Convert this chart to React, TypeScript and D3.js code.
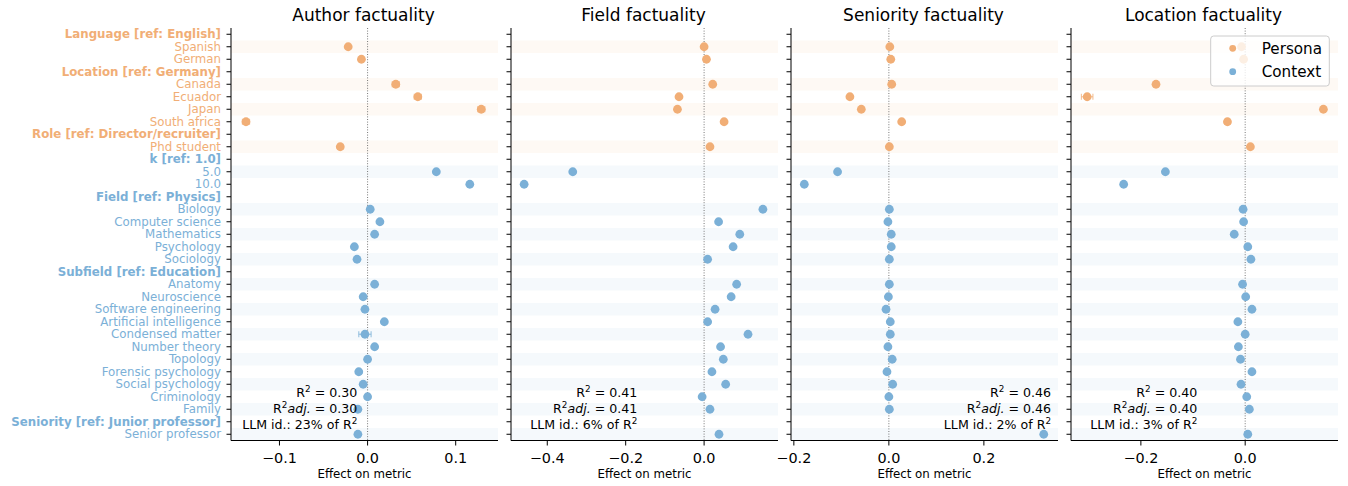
import React from "react";
import * as d3 from "d3";

const labels: string[] = [
  "Language [ref: English]", "Spanish", "German",
  "Location [ref: Germany]", "Canada", "Ecuador", "Japan", "South africa",
  "Role [ref: Director/recruiter]", "Phd student",
  "k [ref: 1.0]", "5.0", "10.0",
  "Field [ref: Physics]", "Biology", "Computer science", "Mathematics", "Psychology", "Sociology",
  "Subfield [ref: Education]", "Anatomy", "Neuroscience", "Software engineering", "Artificial intelligence",
  "Condensed matter", "Number theory", "Topology", "Forensic psychology", "Social psychology", "Criminology", "Family",
  "Seniority [ref: Junior professor]", "Senior professor",
];
const headerRows: number[] = [0, 3, 8, 10, 13, 19, 31];
const personaRowCount = 10; // rows 0..9 are persona, rest context

const authorValues = [null, -0.022, -0.007, null, 0.032, 0.057, 0.129, -0.138, null, -0.031, null, 0.078, 0.116, null, 0.003, 0.014, 0.008, -0.015, -0.012, null, 0.008, -0.005, -0.003, 0.019, -0.003, 0.008, 0.0, -0.010, -0.005, 0.0, -0.011, null, -0.011];
const authorErrors = [0, 0.002, 0.002, 0, 0.004, 0.004, 0.004, 0.004, 0, 0.003, 0, 0.002, 0.002, 0, 0.002, 0.002, 0.002, 0.002, 0.002, 0, 0.002, 0.002, 0.002, 0.002, 0.007, 0.002, 0.002, 0.002, 0.002, 0.002, 0.002, 0, 0.002];

const fieldValues = [null, 0.0, 0.006, null, 0.022, -0.064, -0.068, 0.051, null, 0.015, null, -0.335, -0.459, null, 0.150, 0.037, 0.091, 0.074, 0.009, null, 0.083, 0.069, 0.028, 0.009, 0.112, 0.042, 0.049, 0.020, 0.055, -0.005, 0.015, null, 0.038];
const fieldErrors = [0, 0.003, 0.003, 0, 0.003, 0.003, 0.003, 0.003, 0, 0.003, 0, 0.003, 0.003, 0, 0.003, 0.003, 0.003, 0.003, 0.003, 0, 0.003, 0.003, 0.003, 0.003, 0.004, 0.003, 0.003, 0.003, 0.003, 0.003, 0.003, 0, 0.003];

const seniorityValues = [null, 0.002, 0.004, null, 0.006, -0.082, -0.058, 0.027, null, 0.001, null, -0.108, -0.178, null, 0.001, -0.002, 0.005, 0.005, 0.001, null, 0.001, -0.001, -0.006, 0.003, 0.003, -0.002, 0.007, -0.004, 0.008, 0.0, 0.001, null, 0.326];
const seniorityErrors = [0, 0.003, 0.003, 0, 0.003, 0.003, 0.003, 0.003, 0, 0.003, 0, 0.003, 0.003, 0, 0.003, 0.003, 0.003, 0.003, 0.003, 0, 0.003, 0.003, 0.003, 0.003, 0.003, 0.003, 0.003, 0.003, 0.003, 0.003, 0.003, 0, 0.003];

const locationValues = [null, -0.007, -0.003, null, -0.171, -0.303, 0.150, -0.034, null, 0.010, null, -0.153, -0.233, null, -0.004, -0.003, -0.021, 0.005, 0.011, null, -0.005, 0.001, 0.013, -0.014, 0.0, -0.013, -0.009, 0.013, -0.008, 0.003, 0.008, null, 0.005];
const locationErrors = [0, 0.003, 0.003, 0, 0.005, 0.011, 0.004, 0.005, 0, 0.003, 0, 0.003, 0.003, 0, 0.003, 0.003, 0.003, 0.003, 0.003, 0, 0.003, 0.003, 0.003, 0.003, 0.003, 0.003, 0.003, 0.003, 0.003, 0.003, 0.003, 0, 0.003];

const panelTitles = ["Author factuality", "Field factuality", "Seniority factuality", "Location factuality"];
const panelDomains: [number, number][] = [[-0.155, 0.148], [-0.4925, 0.1885], [-0.206, 0.356], [-0.334, 0.178]];
const panelTicks: number[][] = [[-0.1, 0.0, 0.1], [-0.4, -0.2, 0.0], [-0.2, 0.0, 0.2], [-0.2, 0.0]];
const r2Values = ["0.30", "0.41", "0.46", "0.40"];
const r2AdjValues = ["0.30", "0.41", "0.46", "0.40"];
const llmShares = ["23%", "6%", "2%", "3%"];
const legendLabels = ["Persona", "Context"];

const ORANGE = "#F1AE76";
const BLUE = "#7BB0D7";
const FONT = "'DejaVu Sans', sans-serif";

export default function App() {
  const W = 1348, H = 486;
  const panelLeft0 = 231, panelStep = 280, panelW = 267;
  const top = 28, bottom = 440.5;
  const y = d3.scaleLinear().domain([-0.5, labels.length - 0.5]).range([top, bottom]);
  const rowH = y(1) - y(0);
  const fmt = d3.format(".1f");
  const values = [authorValues, fieldValues, seniorityValues, locationValues];
  const errors = [authorErrors, fieldErrors, seniorityErrors, locationErrors];
  const annoX = [126.3, 126.3, 260, 126.3];

  // banding: first item in each group banded, then alternate
  const banded: boolean[] = [];
  let k = 0;
  labels.forEach((_, i) => {
    if (headerRows.includes(i)) { k = 0; banded.push(false); }
    else { banded.push(k % 2 === 0); k++; }
  });
  const colorOf = (i: number) => (i < personaRowCount ? ORANGE : BLUE);

  return (
    <svg width={W} height={H} style={{ position: "absolute", left: 0, top: 0, fontFamily: FONT }}>
      <rect x={0} y={0} width={W} height={H} fill="white" />
      {/* y tick labels */}
      {labels.map((lab, i) => (
        <text key={"yl" + i} x={221} y={y(i)} dy="0.35em" textAnchor="end" fontSize={11.8}
          fontWeight={headerRows.includes(i) ? "bold" : "normal"} fill={colorOf(i)}>{lab}</text>
      ))}
      {panelTitles.map((title, p) => {
        const x0 = panelLeft0 + p * panelStep;
        const x = d3.scaleLinear().domain(panelDomains[p]).range([x0, x0 + panelW]);
        const vals = values[p];
        const errs = errors[p];
        return (
          <g key={"p" + p}>
            {labels.map((_, i) => banded[i] ? (
              <rect key={"b" + i} x={x0} y={y(i) - rowH / 2} width={panelW} height={rowH}
                fill={colorOf(i)} fillOpacity={0.08} />
            ) : null)}
            <line x1={x(0)} x2={x(0)} y1={top} y2={bottom} stroke="#555" strokeWidth={0.8} strokeDasharray="1,1.6" />
            {vals.map((v, i) => {
              if (v === null) return null;
              const e = errs[i];
              const c = colorOf(i);
              return (
                <g key={"pt" + i}>
                  <line x1={x(v - e)} x2={x(v + e)} y1={y(i)} y2={y(i)} stroke={c} strokeOpacity={0.7} strokeWidth={1.2} />
                  <line x1={x(v - e)} x2={x(v - e)} y1={y(i) - 3} y2={y(i) + 3} stroke={c} strokeOpacity={0.7} strokeWidth={1.2} />
                  <line x1={x(v + e)} x2={x(v + e)} y1={y(i) - 3} y2={y(i) + 3} stroke={c} strokeOpacity={0.7} strokeWidth={1.2} />
                  <circle cx={x(v)} cy={y(i)} r={4.4} fill={c} />
                </g>
              );
            })}
            {/* spines */}
            <line x1={x0} x2={x0} y1={top} y2={bottom} stroke="black" strokeWidth={1} />
            <line x1={x0} x2={x0 + panelW} y1={bottom} y2={bottom} stroke="black" strokeWidth={1} />
            {labels.map((_, i) => (
              <line key={"yt" + i} x1={x0 - 4.5} x2={x0} y1={y(i)} y2={y(i)} stroke="black" strokeWidth={1} />
            ))}
            {panelTicks[p].map((t) => (
              <g key={"xt" + t}>
                <line x1={x(t)} x2={x(t)} y1={bottom} y2={bottom + 5} stroke="black" strokeWidth={1} />
                <text x={x(t)} y={463} textAnchor="middle" fontSize={14.4} fill="black">{fmt(t)}</text>
              </g>
            ))}
            <text x={x0 + panelW / 2} y={478} textAnchor="middle" fontSize={11.8} fill="black">Effect on metric</text>
            <text x={x0 + panelW / 2 - 1} y={20.5} textAnchor="middle" fontSize={17} fill="black">{title}</text>
            {/* annotations */}
            <g fontSize={12.6} fill="black" textAnchor="end">
              <text x={x0 + annoX[p]} y={396.7}>
                R<tspan fontSize={8.8} dy={-5}>2</tspan><tspan dy={5}> = {r2Values[p]}</tspan>
              </text>
              <text x={x0 + annoX[p]} y={412.5}>
                R<tspan fontSize={8.8} dy={-5}>2</tspan><tspan dy={5} fontStyle="italic">adj.</tspan><tspan>  = {r2AdjValues[p]}</tspan>
              </text>
              <text x={x0 + annoX[p]} y={428.7}>
                LLM id.: {llmShares[p]} of R<tspan fontSize={8.8} dy={-5}>2</tspan>
              </text>
            </g>
          </g>
        );
      })}
      {/* legend */}
      <g>
        <rect x={1210.7} y={36} width={118.6} height={50} rx={3} fill="white" fillOpacity={0.8} stroke="#cccccc" strokeWidth={1} />
        {legendLabels.map((lab, j) => (
          <g key={"lg" + j}>
            <circle cx={1232.7} cy={48.3 + j * 23.4} r={3.4} fill={j === 0 ? ORANGE : BLUE} />
            <text x={1261.7} y={54.3 + j * 22.4} fontSize={15.2} fill="black">{lab}</text>
          </g>
        ))}
      </g>
    </svg>
  );
}
